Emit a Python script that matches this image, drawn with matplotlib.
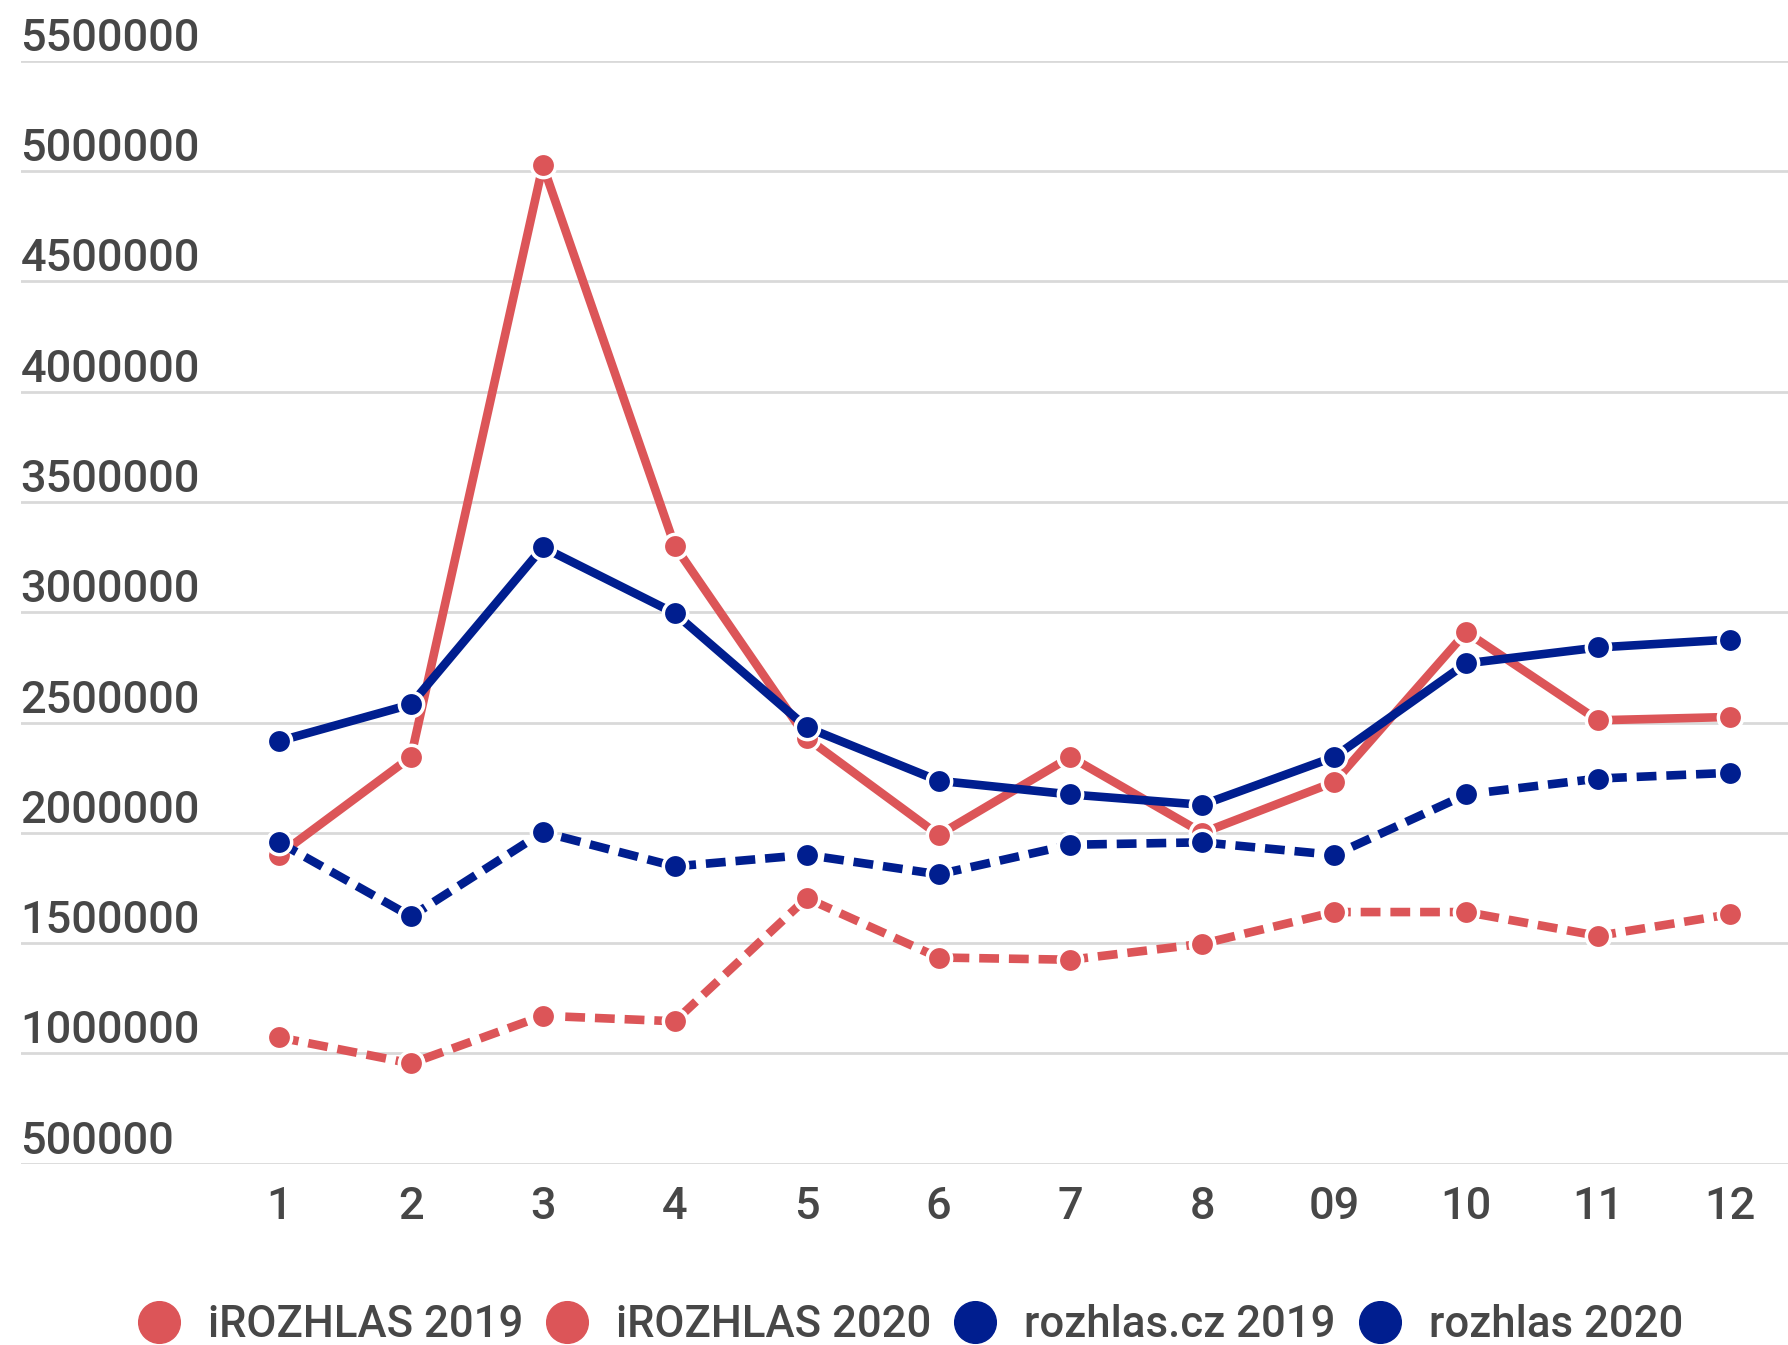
import matplotlib.pyplot as plt
import matplotlib.transforms as mtransforms
from matplotlib.lines import Line2D

plt.rcParams['font.family'] = ['Roboto', 'DejaVu Sans']

months = ['1', '2', '3', '4', '5', '6', '7', '8', '09', '10', '11', '12']

irozhlas_2019 = [1900000, 2344000, 5025000, 3300000, 2430000, 1990000,
                 2344000, 2000000, 2230000, 2910000, 2510000, 2525000]
irozhlas_2020 = [1073000, 955000, 1171000, 1146000, 1704000, 1435000,
                 1425000, 1497000, 1641000, 1641000, 1533000, 1631000]
rozhlas_2019 = [2416000, 2582000, 3294000, 2995000, 2478000, 2236000,
                2174000, 2127000, 2344000, 2768000, 2840000, 2876000]
rozhlas_2020 = [1957000, 1621000, 2003000, 1848000, 1900000, 1812000,
                1946000, 1957000, 1900000, 2174000, 2246000, 2272000]

y_ticks = [500000, 1000000, 1500000, 2000000, 2500000, 3000000,
           3500000, 4000000, 4500000, 5000000, 5500000]

red = '#dc5558'
blue = '#001e8f'
text_col = '#474747'
grid_col = '#d9d9d9'

series = [
    ('iROZHLAS 2019', irozhlas_2019, red, '-'),
    ('iROZHLAS 2020', irozhlas_2020, red, (0, (2.3, 1.15))),
    ('rozhlas.cz 2019', rozhlas_2019, blue, '-'),
    ('rozhlas 2020', rozhlas_2020, blue, (0, (2.3, 1.15))),
]

fig = plt.figure(figsize=(17.88, 13.45), dpi=100)
ax = fig.add_axes([0.0115, 0.1347, 0.9885, 0.8203])

x = list(range(len(months)))
for name, vals, col, ls in series:
    ax.plot(x, vals, color=col, linestyle=ls, linewidth=6.2,
            marker='o', markersize=17.5, markerfacecolor=col,
            markeredgecolor='white', markeredgewidth=2.5,
            clip_on=False, zorder=3)

for v in y_ticks:
    ax.axhline(v, color=grid_col, linewidth=2, zorder=1)

# y labels sit above the grid lines, left aligned
trans = mtransforms.offset_copy(ax.get_yaxis_transform(), fig=fig, x=0, y=1, units='dots')
for v in y_ticks:
    ax.text(0, v, str(v), transform=trans, ha='left', va='bottom',
            fontsize=32.5, color=text_col, fontweight='medium')

ax.set_ylim(500000, 5500000)
ax.set_xlim(-1.96, 11.44)
ax.set_yticks([])
ax.set_xticks(x)
ax.set_xticklabels(months, fontsize=32.5, color=text_col, fontweight='medium')
ax.tick_params(axis='x', length=0, pad=16)
for s in ax.spines.values():
    s.set_visible(False)

handles = [Line2D([], [], linestyle='none', marker='o', markersize=30,
                  markerfacecolor=c, markeredgecolor=c) for _, _, c, _ in series]
labels = [s[0] for s in series]
fig.legend(handles, labels, loc='center', bbox_to_anchor=(0.509, 0.0145),
           ncol=4, frameon=False, handlelength=1.0,
           handletextpad=0.62, columnspacing=0.5, borderaxespad=0,
           labelcolor=text_col, prop={'weight': 'medium', 'size': 31.5})

fig.savefig('out.png', dpi=100)
